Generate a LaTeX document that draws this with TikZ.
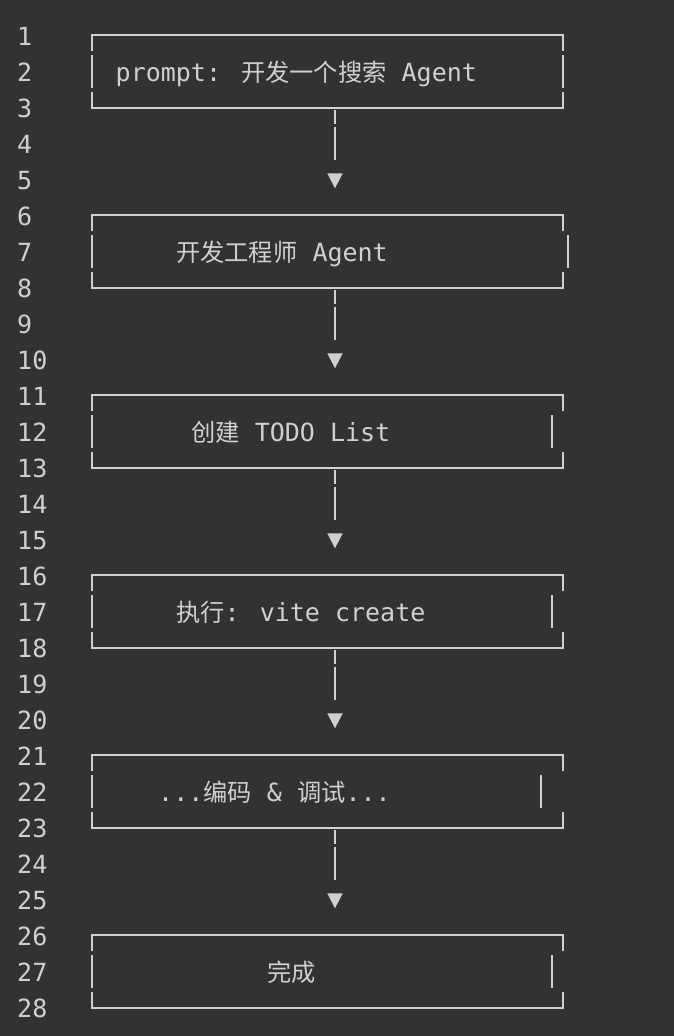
\documentclass[tikz,border=0pt]{standalone}
\usepackage{fontspec}
\newfontfamily\codefont{DejaVu Sans Mono}
\newfontfamily\zhfont[Scale=0.97]{Noto Sans CJK SC}
\usetikzlibrary{arrows.meta}
\definecolor{editorbg}{HTML}{323232}
\definecolor{glyph}{HTML}{D0D0D0}

\begin{document}
\begin{tikzpicture}[
  x=1pt, y=-1pt,
  font=\codefont\fontsize{25}{30}\selectfont,
  every node/.style={text=glyph, inner sep=0pt},
  lnum/.style={anchor=base west},
  txt/.style={anchor=base west},
  rule/.style={draw=glyph, line width=2pt, line cap=rect},
  asciibox/.style={
    minimum width=471pt,
    minimum height=72pt,
    append after command={
      (\tikzlastnode.north west) edge[rule] (\tikzlastnode.north east)
      (\tikzlastnode.south west) edge[rule] (\tikzlastnode.south east)
      (\tikzlastnode.north west) edge[rule] ([yshift=-15pt]\tikzlastnode.north west)
      ([yshift=-20.5pt]\tikzlastnode.north west) edge[rule] ([yshift=-51.5pt]\tikzlastnode.north west)
      ([yshift=15pt]\tikzlastnode.south west) edge[rule] (\tikzlastnode.south west)
      (\tikzlastnode.north east) edge[rule] ([yshift=-15pt]\tikzlastnode.north east)
      ([xshift=#1, yshift=-20.5pt]\tikzlastnode.north east) edge[rule] ([xshift=#1, yshift=-51.5pt]\tikzlastnode.north east)
      ([yshift=15pt]\tikzlastnode.south east) edge[rule] (\tikzlastnode.south east)
    }
  },
  asciibox/.default=0pt,
  flow/.style={
    draw=glyph, line width=2pt,
    shorten <=2.5pt, shorten >=27pt,
    dash pattern=on 13.5pt off 3.5pt on 33pt off 40pt,
    -{Triangle[length=15pt, width=15.5pt, line width=0pt]}
  },
  stem/.style={xshift=7.5pt} % the arrows sit right of the box centre
]

% editor background
\fill[editorbg] (0,0) rectangle (674,1036);

% line numbers
\foreach \n in {1,...,28}
  \node[lnum] (ln\n) at (17, {36*\n+9.5}) {\n};

% =========================
% boxes
% =========================
\node[asciibox] (b1) at (327.5, 71.5) {};
\node[txt] (t1) at (115.5, 81.5) {prompt: {\zhfont 开发一个搜索} Agent};

\node[asciibox=5pt] (b2) at (327.5, 251.5) {};
\node[txt] (t2) at (176, 261.5) {{\zhfont 开发工程师} Agent};

\node[asciibox=-11pt] (b3) at (327.5, 431.5) {};
\node[txt] (t3) at (191, 441.5) {{\zhfont 创建} TODO List};

\node[asciibox=-11pt] (b4) at (327.5, 611.5) {};
\node[txt] (t4) at (176, 621.5) {{\zhfont 执行}: vite create};

\node[asciibox=-22pt] (b5) at (327.5, 791.5) {};
\node[txt] (t5) at (158, 801.5) {...{\zhfont 编码} \& {\zhfont 调试}...};

\node[asciibox=-11pt] (b6) at (327.5, 971.5) {};
\node[txt] (t6) at (267, 981.5) {{\zhfont 完成}};

% =========================
% connectors
% =========================
\draw[flow] ([stem]b1.south) -- ([stem]b2.north);
\draw[flow] ([stem]b2.south) -- ([stem]b3.north);
\draw[flow] ([stem]b3.south) -- ([stem]b4.north);
\draw[flow] ([stem]b4.south) -- ([stem]b5.north);
\draw[flow] ([stem]b5.south) -- ([stem]b6.north);

\end{tikzpicture}
\end{document}
